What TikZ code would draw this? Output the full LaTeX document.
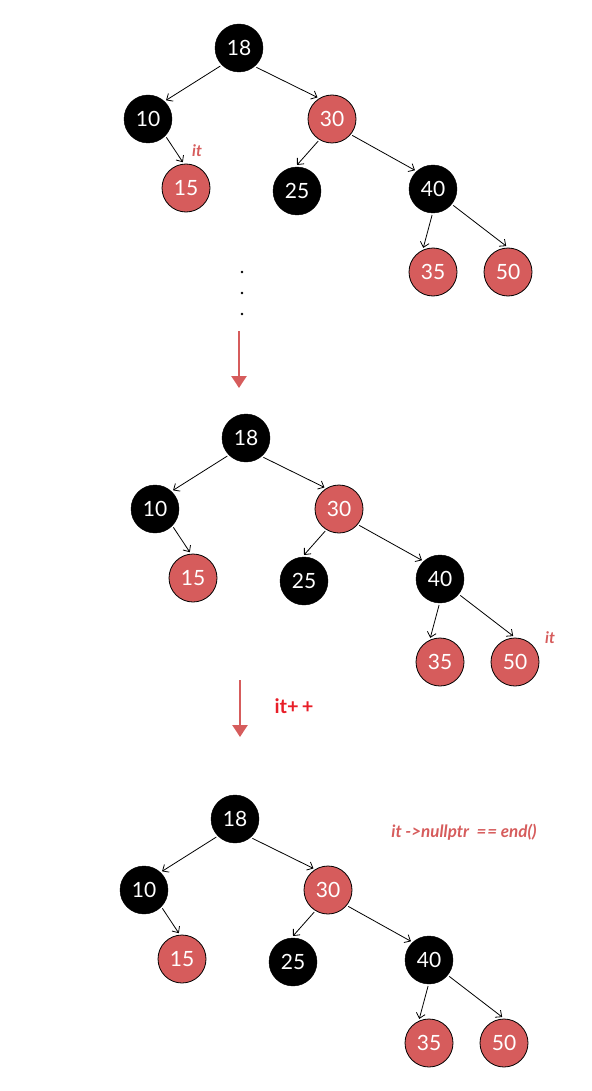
\documentclass[tikz,border=0pt]{standalone}
\usepackage{fontspec}
\setmainfont{Lato}
\usetikzlibrary{arrows.meta, positioning}

\definecolor{rbred}{RGB}{214,92,92}
\definecolor{incred}{RGB}{232,30,40}

\tikzset{
	blknode/.style={circle, fill=black, draw=black, minimum size=48pt, inner sep=0pt, outer sep=2pt, text=white, font=\fontsize{21}{21}\selectfont},
	rednode/.style={circle, fill=rbred, draw=black, line width=0.8pt, minimum size=48pt, inner sep=0pt, outer sep=2pt, text=white, font=\fontsize{21}{21}\selectfont},
	link/.style={line width=0.8pt, -{Straight Barb[length=5pt, width=9pt]}},
	step arrow/.style={rbred, line width=2.5pt, -{Triangle[length=12pt, width=15pt]}},
	itlabel/.style={text=rbred, font=\fontsize{16}{16}\selectfont\bfseries\itshape},
}

% one red-black tree, #1 = name prefix, (#2,#3) = shift
\newcommand{\rbtree}[3]{%
	\begin{scope}[shift={(#2,#3)}]
		\node[blknode](#1-18) at (239, 48){18};
		\node[blknode](#1-10) at (148, 119){10};
		\node[rednode](#1-30) at (332, 119){30};
		\node[rednode](#1-15) at (186, 188){15};
		\node[blknode](#1-25) at (297, 191){25};
		\node[blknode](#1-40) at (433, 189){40};
		\node[rednode](#1-35) at (433, 272){35};
		\node[rednode](#1-50) at (508, 272){50};
		\draw[link] (#1-18.224) -- (#1-10.46);
		\draw[link] (#1-18.-48) -- (#1-30.124);
		\draw[link] (#1-10.-45) -- (#1-15.97);
		\draw[link] (#1-30.238) -- (#1-25.90);
		\draw[link] (#1-30.-39) -- (#1-40.134);
		\draw[link] (#1-40.268) -- (#1-35.112);
		\draw[link] (#1-40.-39) -- (#1-50.94);
	\end{scope}}

\begin{document}
\begin{tikzpicture}[x=1pt, y=-1pt]
	\useasboundingbox (0, 0) rectangle (591, 1091);
	% Trees:
	\rbtree{a}{0}{0}
	\rbtree{b}{7}{390}
	\rbtree{c}{-4}{771}
	% Iterator marks:
	\node[itlabel](IT1) at (197, 151){it};
	\node[itlabel](IT2) at (550, 638){it};
	\node[itlabel, font=\fontsize{17}{17}\selectfont\bfseries\itshape](END) at (464, 832){it ->nullptr\ \ =\kern1pt= end()};
	% Dots and steps:
	\foreach \y/\n in {272/1, 293/2, 314/3}
		\fill (242, \y) circle (1.4) coordinate (D\n);
	\coordinate (S1) at (239, 331);
	\coordinate (E1) at (239, 388);
	\draw[step arrow] (S1) -- (E1);
	\coordinate (S2) at (240, 680);
	\coordinate (E2) at (240, 737);
	\draw[step arrow] (S2) -- (E2);
	\node[text=incred, font=\fontsize{20}{20}\selectfont\bfseries](INC) at (294, 706){it+\kern3pt+};
\end{tikzpicture}
\end{document}
